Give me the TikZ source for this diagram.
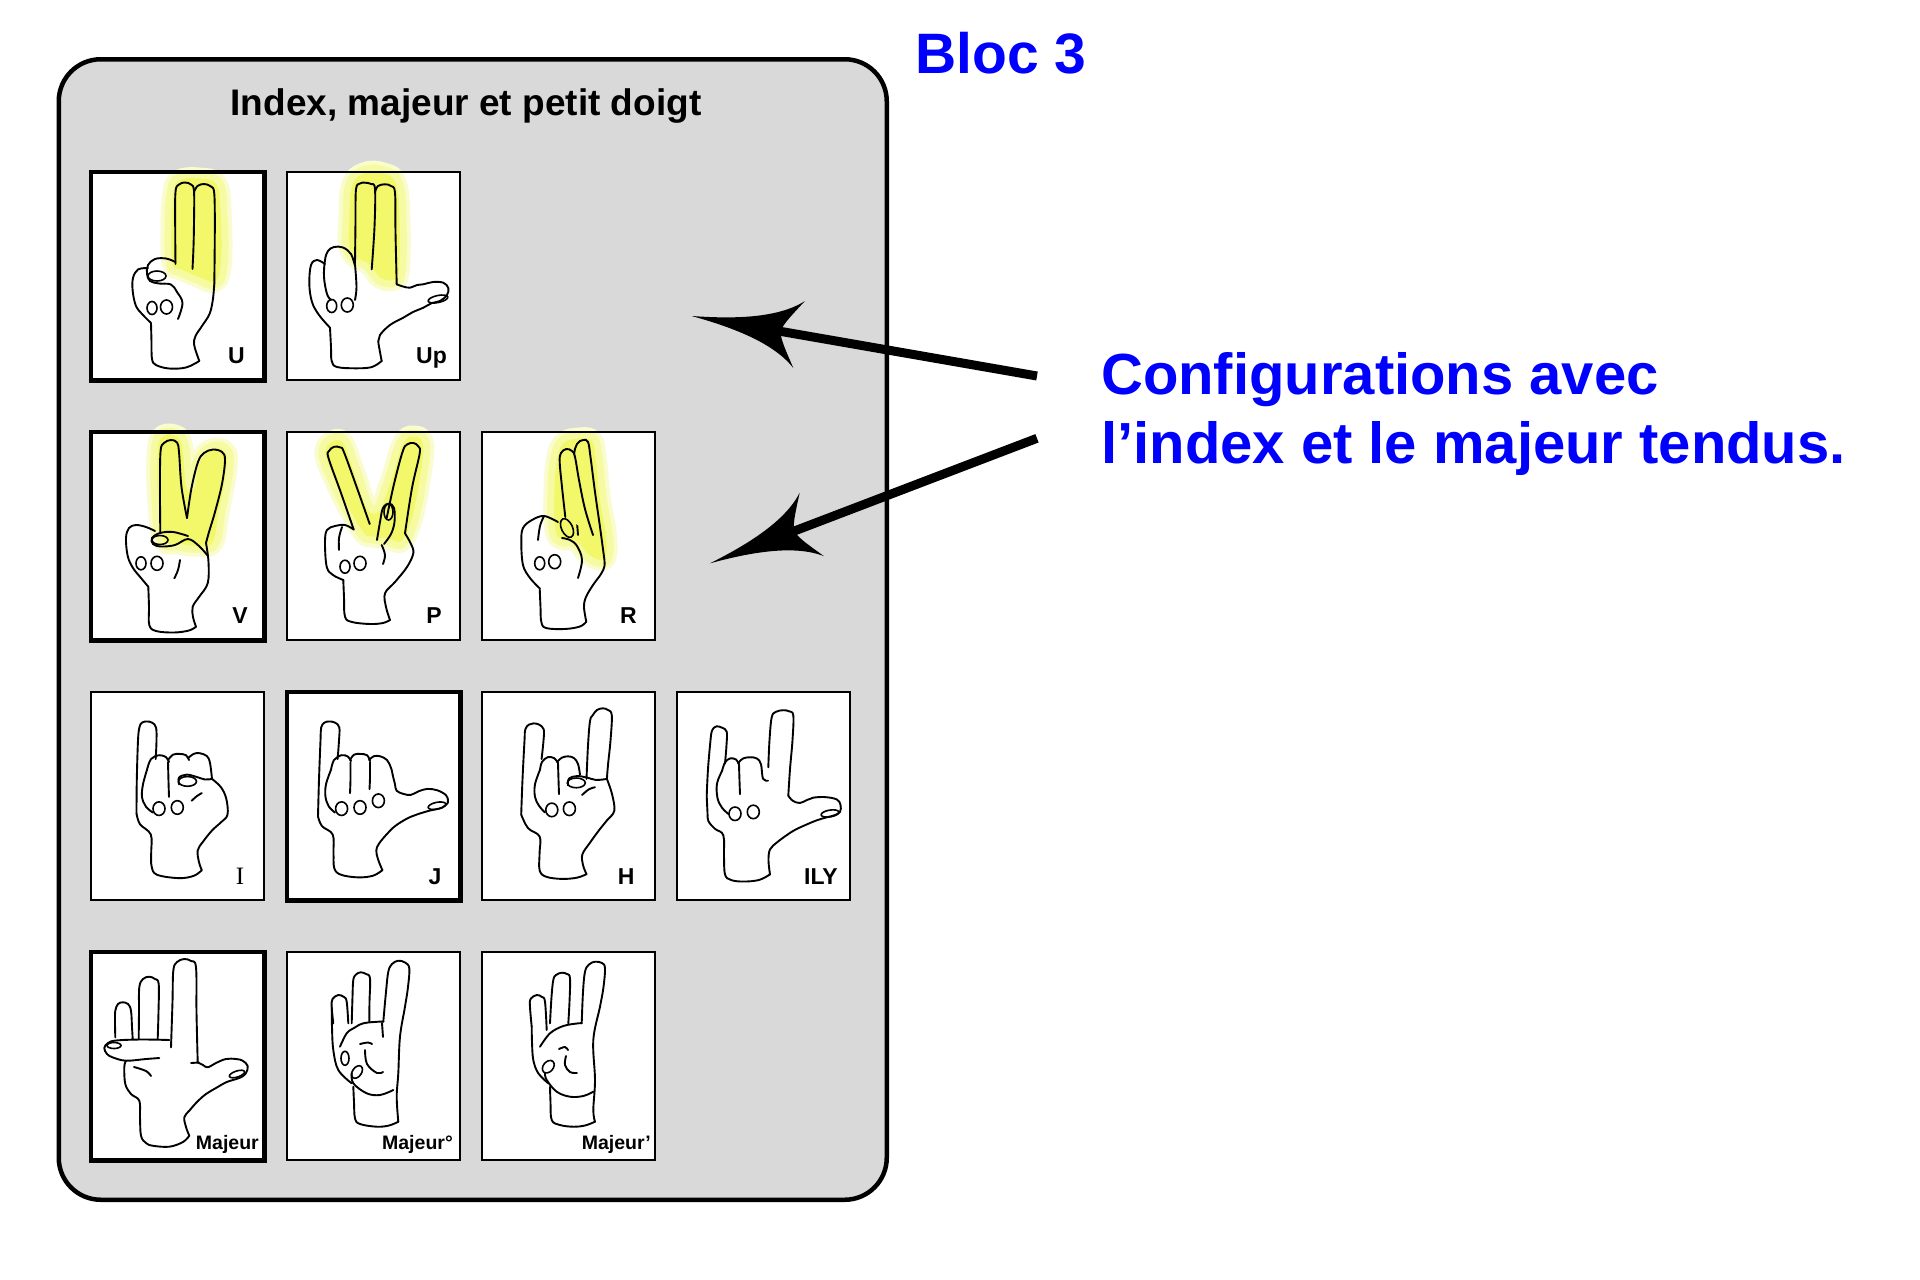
\documentclass[tikz,border=0pt]{standalone}
\usepackage{fontspec}
\setmainfont{Liberation Sans}
\newfontfamily\serifI{Liberation Serif}
\usetikzlibrary{calc}
\definecolor{boxgray}{RGB}{217,217,217}
\definecolor{hly}{RGB}{242,248,105}
\definecolor{hlsoft}{RGB}{246,250,160}
\definecolor{hlpale}{RGB}{250,252,205}
\definecolor{pureblue}{RGB}{0,0,255}
\tikzset{
  hand/.style={draw=black, line width=1.9pt, line cap=round, line join=round},
  nail/.style={draw=black, line width=1.6pt},
  hilite/.style={fill=hly, draw=hlsoft, line width=7pt, line join=round,
    preaction={draw=hlpale, line width=15pt, line join=round}},
  cellbox/.style={fill=white, draw=none, inner sep=0pt, minimum width=173pt, minimum height=208pt, anchor=north west},
  thinb/.style={draw=black, line width=2pt},
  thickb/.style={draw=black, line width=4.5pt},
  lbl/.style={font=\bfseries\fontsize{23}{23}\selectfont, anchor=base east, inner sep=0pt},
  lblI/.style={font=\serifI\fontsize{25}{25}\selectfont, anchor=base east, inner sep=0pt},
  lblsmall/.style={font=\bfseries\fontsize{19.5}{19.5}\selectfont, anchor=base east, inner sep=0pt},
  bluetxt/.style={text=pureblue, font=\bfseries\fontsize{58}{58}\selectfont, anchor=base west, inner sep=0pt},
  panelbox/.style={draw=black, fill=boxgray, line width=4.5pt, rounded corners=42pt, inner sep=0pt, minimum width=828pt, minimum height=1140.5pt, anchor=north west},
  shaft/.style={draw=black, line width=9pt},
}
\newcommand\hp[1]{\draw[hand] plot[smooth, tension=0.6] coordinates {#1};}
\begin{document}
\begin{tikzpicture}[x=1pt, y=-1pt]
\useasboundingbox (0,0) rectangle (1920,1280);
\fill[white] (0,0) rectangle (1920,1280);

\node[panelbox] (panel) at (56.5,57) {};
\node[font=\bfseries\fontsize{37}{37}\selectfont, anchor=base, inner sep=0pt] (title) at (466,115.5) {Index, majeur et petit doigt};
\node[bluetxt, font=\bfseries\fontsize{57}{57}\selectfont] (bloc) at (915,73.5) {Bloc 3};
\node[bluetxt] (conf1) at (1101,394) {Configurations avec};
\node[bluetxt] (conf2) at (1101,463) {l’index et le majeur tendus.};

% cells
\node[cellbox] (cU) at (91,172) {};
\node[cellbox] (cUp) at (287,172) {};
\node[cellbox] (cV) at (91,432) {};
\node[cellbox] (cP) at (287,432) {};
\node[cellbox] (cR) at (482,432) {};
\node[cellbox] (cI) at (91,692) {};
\node[cellbox] (cJ) at (287,692) {};
\node[cellbox] (cH) at (482,692) {};
\node[cellbox] (cILY) at (677,692) {};
\node[cellbox] (cMa) at (91,952) {};
\node[cellbox] (cMb) at (287,952) {};
\node[cellbox] (cMc) at (482,952) {};

% ---------- U ----------
\begin{scope}[shift={(cU.north west)}]
\fill[hilite] plot[smooth cycle, tension=.7] coordinates {(79,22) (86,6) (108,3) (128,10) (133,40) (133,95) (124,113) (106,108) (90,101) (79,94) (77,60)};
\hp{(84.5,92) (84.2,55) (84.5,20) (88,12.5) (94,10.5) (100,12.5) (103,19) (103,50) (102.5,75) (101.5,97)}
\hp{(103,20) (106.5,14) (113,12) (120,14.5) (123.3,22) (123.8,60) (123.3,112)}
\hp{(84.5,90) (75,86.5) (64,87) (57,93) (56,102) (59,109) (68,111.5) (80,112.5) (86,120) (91.5,131) (87,147)}
\draw[nail] (66,104) ellipse[x radius=9pt, y radius=5pt];
\hp{(57,96) (47,97.5) (42,106) (41.7,119) (45,134) (52,143) (60,151)}
\draw[nail] (61,136) ellipse[x radius=5pt, y radius=6.5pt];
\draw[nail] (75.5,135) ellipse[x radius=6pt, y radius=7pt];
\hp{(60,151) (60.5,170) (61,187) (65,193) (78,196.5) (95,195.5) (108.3,189)}
\hp{(108.3,189) (105.5,181) (103,172) (104.5,164) (111,154) (118.5,142) (121.8,128) (123.3,112)}
\end{scope}

% ---------- Up ----------
\begin{scope}[shift={(cUp.north west)}]
\fill[hilite] plot[smooth cycle, tension=.7] coordinates {(59,45) (62,12) (76,-2) (97,-2) (112,10) (116,50) (115,100) (108,111) (92,109) (80,95) (67,88) (59,75)};
\hp{(68,92.3) (68.5,50) (69,17.3) (73,11.5) (78,10.7) (84,12) (88,17) (87.5,55) (84.7,97.3)}
\hp{(88,20) (91,14) (98,12.3) (104,14) (108,20.7) (108.5,60) (109.7,112.3)}
\hp{(109.7,112.3) (116,114.5) (123,115.7) (130,113) (136.3,112.3) (146,110) (156.3,110.7) (161.3,116) (160,123) (153,129) (145,131) (136.3,135.7) (126,140) (116.3,145.7) (106,151) (99.7,155.7) (93,163) (91.3,169) (93,180) (94.7,189)}
\draw[nail, rotate around={12:(151,127)}] (151,127) ellipse[x radius=10pt, y radius=3.5pt];
\hp{(68,94) (64,82) (56,75.5) (47,75) (41,79) (38,88) (37,105) (40,122) (44,128)}
\hp{(68,92.3) (69.5,115) (68,128)}
\hp{(38,92) (30,88) (24,93) (22.3,112) (25,130) (32,143) (43,155.7)}
\draw[nail] (44.7,134) ellipse[x radius=5pt, y radius=6.5pt];
\draw[nail] (60.3,133) ellipse[x radius=6pt, y radius=7pt];
\hp{(43,155.7) (44,175) (44.7,189) (50,195) (69.7,196.3) (85,195) (94.7,189)}
\end{scope}

% ---------- V ----------
\begin{scope}[shift={(cV.north west)}]
\fill[hilite] plot[smooth cycle, tension=.7] coordinates {(63,25) (68,3) (84,0) (94,12) (99,55) (106,28) (120,14) (136,17) (139,35) (131,80) (124,113) (105,117) (88,115) (70,110) (64,70)};
\hp{(69.3,100) (69,60) (69.5,20) (73,11) (80,8) (86,10.5) (88,20) (90.5,55) (96,86)}
\hp{(96,86) (100.5,56) (107,30) (113,21) (122,17.5) (131,20) (134,28) (131,52) (124,80) (118,100) (115,111)}
\hp{(97,104) (82,100) (69,101) (61,106) (62,112) (70,114.5) (84,113) (97,107) (108,114) (117,124)}
\draw[nail] (69,108) ellipse[x radius=8pt, y radius=4.5pt];
\hp{(64,99) (55,95) (45,93) (38,96) (35,106) (36.7,124) (42,136) (50,146) (57.3,154.7)}
\draw[nail] (50,131.3) ellipse[x radius=5pt, y radius=6.5pt];
\draw[nail] (66,131.3) ellipse[x radius=6pt, y radius=7pt];
\hp{(89,128) (87,138) (83.3,146.3)}
\hp{(57.3,154.7) (58,175) (58.3,193) (65,199) (83,200.5) (98,198.5) (105,194.7)}
\hp{(105,194.7) (102,185) (101.7,174.7) (108,165) (116.7,151.3) (117.5,130) (115,111)}
\end{scope}

% ---------- P ----------
\begin{scope}[shift={(cP.north west)}]
\fill[hilite] plot[smooth cycle, tension=.7] coordinates {(35,22) (43,7) (58,8) (70,38) (86,78) (100,50) (113,10) (127,1) (139,10) (137,42) (128,88) (116,112) (100,110) (86,108) (75,104) (60,80) (46,52)};
\hp{(66.7,97.5) (54,61) (41.5,26) (42,19) (47,14.8) (53.5,15.5) (57.1,20.5) (70,56) (82.7,92)}
\hp{(99.7,86) (107,52) (115.5,20) (120,12.5) (126.5,11) (131.5,14.5) (132.6,22) (125,56) (118,101.3)}
\hp{(90,108) (93,90) (96,76) (102,71.5) (107,76) (107.5,90) (104,102) (97,112)}
\draw[nail] (101.5,80) ellipse[x radius=4.5pt, y radius=8pt];
\hp{(94.7,113) (98,123) (96,132)}
\hp{(66.7,97.5) (58,93) (48,94) (40,98) (38,110) (39.7,134.7) (46,143) (56.3,148)}
\hp{(55,95) (52,106) (52,118)}
\draw[nail] (58,134.7) ellipse[x radius=5pt, y radius=6.5pt];
\draw[nail] (73,131.3) ellipse[x radius=6pt, y radius=7pt];
\hp{(118,101.3) (124,112) (126.3,121.3) (120,135) (108,150) (98,161.3) (99,175) (103,188)}
\hp{(56.3,148) (57,165) (58,184.7) (65,190) (83,192) (96,191) (103,188)}
\end{scope}

% ---------- R ----------
\begin{scope}[shift={(cR.north west)}]
\fill[hilite] plot[smooth cycle, tension=.7] coordinates {(72,25) (80,8) (97,3) (112,6) (117,25) (121,65) (127,100) (127,125) (117,131) (103,124) (92,112) (78,110) (70,98) (69,60)};
\hp{(96,103) (93,60) (92,25) (95,12) (101,8) (106,10) (108.5,25) (113,60) (118,95) (122,124.7)}
\fill[hly] plot[smooth, tension=.6] coordinates {(83.3,85) (80,55) (77.7,30) (79,21) (84.3,17) (90,19) (93,25) (97,48) (103,77) (111,103)} -- cycle;
\hp{(83.3,85) (80,55) (77.7,30) (79,21) (84.3,17) (90,19) (93,25) (97,48) (103,77) (111,103)}
\draw[nail, rotate around={25:(85,96)}] (85,96) ellipse[x radius=5.5pt, y radius=10pt];
\hp{(76,90) (62,84) (50,88) (41,96) (39.3,110) (41,133) (48,146) (57.7,156.3)}
\hp{(62,84) (58,94) (56,108)}
\draw[nail] (57.7,131.3) ellipse[x radius=5pt, y radius=6.5pt];
\draw[nail] (72.7,129.7) ellipse[x radius=6pt, y radius=7pt];
\hp{(80,106) (88,108) (95,114) (100,128) (96,146)}
\hp{(122,124.7) (122.5,134) (119,142) (111,153) (104,165) (102,175) (104.3,189.7)}
\hp{(57.7,156.3) (58.5,175) (59.3,189.7) (64,196) (82.7,197) (98,194.5) (104.3,189.7)}
\end{scope}

% ---------- I ----------
\begin{scope}[shift={(cI.north west)}, yscale=0.972]
\hp{(45.5,125) (45.8,90) (47,50) (48.4,36.4) (51,31.5) (55.7,30.3) (61,31.5) (65,36.4) (65.5,50) (64.7,69)}
\hp{(56,80) (60,69) (68,65) (75,67) (78,72)}
\hp{(77,70) (82,64.5) (88.4,63.7) (95,65) (98,70)}
\hp{(97,68) (103,63.5) (109,63) (116,66) (119,73) (121,89.4)}
\hp{(77,72) (77.5,92) (78,108)}
\hp{(56,80) (52,95) (51,108) (55,118) (61.8,124)}
\draw[nail] (68,120) ellipse[x radius=6pt, y radius=7pt];
\draw[nail] (86.3,118.8) ellipse[x radius=6pt, y radius=7pt];
\hp{(88,95) (88,88) (96,85) (106,87.5) (114,90) (121,89.4)}
\draw[nail] (96.5,92) ellipse[x radius=9pt, y radius=5pt];
\hp{(100.6,111.9) (106,107) (110.8,104)}
\hp{(121,89.4) (130,98) (135.3,109.9) (136.5,126.2) (130,134) (121,142.5) (112,154) (106.7,162.9) (108,175) (110.8,183.3)}
\hp{(45.5,125) (49,136) (59.8,146.6) (60.2,165) (60.6,179.2) (66,188) (88.4,191.5) (103,189) (110.8,183.3)}
\end{scope}

% ---------- J ----------
\begin{scope}[shift={(cJ.north west)}, yscale=0.972]
\hp{(31,128) (32,90) (33.5,50) (34.2,36.4) (37.5,31.5) (42.4,30.3) (48,31.5) (52.3,36.4) (52,50) (50.6,69)}
\hp{(44,80) (47,70) (54.6,65) (61,66.5) (64,71)}
\hp{(63,70) (67,64.5) (73,63.7) (80,65) (83,71)}
\hp{(82,70) (87,66) (93.4,66.2) (100,70) (104,78) (105.7,85.4)}
\hp{(44,80) (39,95) (38.5,108) (42,118) (48,124)}
\hp{(63.5,72) (63.5,90) (63,104)}
\hp{(83,72) (83,88) (82.5,100)}
\draw[nail] (54.6,120) ellipse[x radius=6pt, y radius=7pt];
\draw[nail] (73,118.8) ellipse[x radius=6pt, y radius=7pt];
\draw[nail] (91.4,111.9) ellipse[x radius=6pt, y radius=7pt];
\hp{(105.7,85.4) (108,95) (109.7,101.7) (117,105) (124,105.8) (132,102) (140.3,99.7) (150,101) (158.7,105.8) (161,111) (160.8,114) (155,119) (142.4,122.1) (130,126) (119.9,130.3) (108,138) (99.5,146.6) (92,156) (89.3,162.9) (91,172) (95.4,183.3)}
\draw[nail, rotate around={12:(150,117)}] (150,117) ellipse[x radius=9pt, y radius=3.5pt];
\hp{(31,128) (35,138) (45.7,146.6) (46.5,165) (47.3,181.3) (54,188) (71,190.7) (86,189) (95.4,183.3)}
\end{scope}

% ---------- H ----------
\begin{scope}[shift={(cH.north west)}, yscale=0.972]
\hp{(39.2,126.2) (40.5,90) (42.5,50) (43.3,38.4) (47,33.5) (51.5,32.3) (57,33.5) (61.7,38.4) (61.5,50) (59.6,69)}
\hp{(104.5,89.4) (106,55) (108,30) (110.6,24.1) (115,18.5) (120.9,16.8) (126,18.5) (129.8,24.1) (128.5,50) (126,75) (124.9,89.4)}
\hp{(58,80) (60,72) (65.8,67) (72,68) (76,73)}
\hp{(75,72) (80,67.5) (86.2,66.2) (92,68) (96,74) (98,85)}
\hp{(76,73) (76.5,90) (77,105)}
\hp{(58,80) (53,95) (53,108) (57,117) (63,124)}
\draw[nail] (69.8,121.3) ellipse[x radius=6pt, y radius=7pt];
\draw[nail] (87.4,120.1) ellipse[x radius=6pt, y radius=7pt];
\hp{(86,96) (87,89) (95,86.5) (105,88) (114,90.5) (124.9,89.4)}
\draw[nail] (94.3,93.5) ellipse[x radius=9pt, y radius=5pt];
\hp{(100,106) (107,100) (113,98)}
\hp{(124.9,89.4) (130,105) (132.3,122.1) (125,132) (116.8,142.5) (108,155) (100.4,167) (101,178) (104.5,187.4)}
\hp{(39.2,126.2) (46,140) (57.6,148.6) (57.6,165) (57.6,183.3) (64,190) (80,192.3) (95,191) (104.5,187.4)}
\end{scope}

% ---------- ILY ----------
\begin{scope}[shift={(cILY.north west)}, yscale=0.964]
\hp{(29.7,107.7) (31,80) (33.5,50) (34.7,41.1) (37,37) (39.7,35.5) (45,37) (49.7,41.1) (49.5,55) (48,74.4)}
\hp{(91.3,78.1) (92.5,50) (94.7,26.3) (99,20.5) (106.3,18.9) (112,20) (116.3,24.4) (115.5,50) (113,80) (111.3,107.7)}
\hp{(45,82) (48,73) (53,68.9) (59,70) (62,75)}
\hp{(61,74) (66,69) (73,67.7) (80,69) (84,75) (86,90) (91,92)}
\hp{(62,75) (62.5,92) (63,106)}
\hp{(45,82) (40,95) (40.5,110) (45,120) (52,127)}
\draw[nail] (58,126.3) ellipse[x radius=6pt, y radius=7pt];
\draw[nail] (76.3,124.4) ellipse[x radius=6pt, y radius=7pt];
\hp{(111.3,107.7) (116,113) (123,115.1) (130,112) (136.3,109.6) (148,109) (159.7,111.4) (163.5,117) (163,124.4) (157,128) (149.7,130) (140,133) (129.7,137.4) (118,143) (109.7,148.5) (100,156) (93,163.3) (91.5,175) (93,189.2)}
\draw[nail, rotate around={10:(153,126)}] (153,126) ellipse[x radius=9pt, y radius=3.5pt];
\hp{(29.7,107.7) (30.5,125) (31.3,133.7) (38,142) (46.3,148.5) (47,170) (48,189.2) (54,195) (66.3,196.6) (82,195) (93,189.2)}
\end{scope}

% ---------- Majeur ----------
\begin{scope}[shift={(cMa.north west)}]
\hp{(24.3,85.3) (24,70) (24.3,58.7) (27,52) (31.7,50.3) (37,52) (40,58.7) (41,75) (41.7,87)}
\hp{(47.7,87) (48,60) (48.3,35.3) (52,27) (58.3,24.7) (64,27) (67.7,32) (67.5,60) (66.7,87)}
\hp{(80,95.3) (81.5,50) (82.3,18.7) (86,10) (93.3,7) (100,9) (105,15.3) (105.5,60) (106.7,110.3)}
\hp{(78.3,88) (50,87.5) (25,88.5) (17,91) (13.3,96) (16,102) (22,105.5) (35,108.7) (55,107) (68.3,106)}
\draw[nail] (23,93.5) ellipse[x radius=7pt, y radius=3pt];
\hp{(106.7,110.3) (112,113) (116.7,115.3) (125,111) (135,107) (145,107) (151.7,108.7) (156.7,114) (155,121) (150,125.3) (142,128) (135,130.3) (125,136) (115,142) (106,150) (98.3,158.7) (93.3,165.3) (95,175) (98.3,183.7)}
\draw[nail, rotate around={18:(146,122)}] (146,122) ellipse[x radius=8pt, y radius=3pt];
\hp{(35,108.7) (33.3,115) (34.3,132) (40,142) (48.3,148.7) (49,165) (50,183.7) (55,191) (61.7,193.7) (78.3,194.7) (92,190) (98.3,183.7)}
\hp{(43,115) (55,119) (60,124)}
\hp{(100,111) (108,110.5)}
\end{scope}

% ---------- Majeur° ----------
\begin{scope}[shift={(cMb.north west)}]
\hp{(46.3,71.3) (44.7,55) (45.5,47) (51.3,43) (57,45) (59.7,49.7) (61.3,71.3)}
\hp{(64.7,71.3) (65.5,45) (66.3,28) (69,22.5) (73.7,20.3) (79,22) (83,26.3) (82.5,50) (82.3,69.7)}
\hp{(96.3,69.7) (99,40) (101.3,19.7) (105,12) (111.3,8.7) (118,10.5) (122.3,16.3) (121,35) (118,54.7) (113,84.7) (111.3,121.3) (109.7,144.7) (111.3,169.7)}
\hp{(53,94.7) (59.7,81.3) (67,76) (76.3,71.3) (91.3,69.7) (96.3,69.7)}
\hp{(95,71) (96,85)}
\draw[nail] (58,106.3) ellipse[x radius=4pt, y radius=7pt];
\draw[nail, rotate around={-35:(70,120)}] (70,120) ellipse[x radius=4.5pt, y radius=7pt];
\hp{(73,92) (81,90.5) (85,92)}
\hp{(78,98) (80,112) (90,121) (96,120)}
\hp{(64.7,121.3) (66.3,131.3) (79.7,141.3) (93,143) (106.3,138)}
\hp{(44.7,55.3) (45,75) (46.3,98) (51.3,118) (64.7,131.3)}
\hp{(66.3,134.7) (67,150) (68,166.3) (73,172) (89.7,174.7) (102,173.5) (111.3,169.7)}
\end{scope}

% ---------- Majeur' ----------
\begin{scope}[shift={(cMc.north west)}]
\hp{(49.7,74.7) (48,55) (48.5,47) (54.7,43) (60,45) (63,49.7) (64.7,78)}
\hp{(68,71.3) (69.5,45) (71.3,28) (74,23) (79.7,20.7) (85,22) (88,26.3) (87.5,50) (86.3,71.3)}
\hp{(99.7,71.3) (101,40) (103,19.7) (107,12.5) (113,9.7) (120,11) (123,16.3) (121.5,35) (118,54.7) (111.3,88) (113,128) (111.3,158) (113,169.7)}
\hp{(58,94.7) (68,81.3) (81.3,74) (96.3,71.3) (99.7,71.3)}
\draw[nail, rotate around={-40:(66.3,114.7)}] (66.3,114.7) ellipse[x radius=5pt, y radius=7pt];
\hp{(77,97) (83,95) (86,98)}
\hp{(84,104) (83,113) (88,120) (95,121)}
\hp{(63,121.3) (64.7,128) (74.7,139.7) (88,144.7) (101.3,144) (111.3,139.7)}
\hp{(49.7,74.7) (50,90) (51.3,108) (56.3,121.3) (66.3,131.3)}
\hp{(68,134.7) (68.5,150) (69.7,168) (78,173) (91.3,174.7) (103,173.5) (113,169.7)}
\end{scope}

% borders
\draw[thickb] (cU.north west) rectangle (cU.south east);
\draw[thinb] (cUp.north west) rectangle (cUp.south east);
\draw[thickb] (cV.north west) rectangle (cV.south east);
\draw[thinb] (cP.north west) rectangle (cP.south east);
\draw[thinb] (cR.north west) rectangle (cR.south east);
\draw[thinb] (cI.north west) rectangle (cI.south east);
\draw[thickb] (cJ.north west) rectangle (cJ.south east);
\draw[thinb] (cH.north west) rectangle (cH.south east);
\draw[thinb] (cILY.north west) rectangle (cILY.south east);
\draw[thickb] (cMa.north west) rectangle (cMa.south east);
\draw[thinb] (cMb.north west) rectangle (cMb.south east);
\draw[thinb] (cMc.north west) rectangle (cMc.south east);

% labels
\node[lbl] (lU) at (245,363) {U};
\node[lbl] (lUp) at (447,363) {Up};
\node[lbl] (lV) at (248,623) {V};
\node[lbl] (lP) at (442,623) {P};
\node[lbl] (lR) at (637,623) {R};
\node[lblI] (lI) at (244.5,884) {I};
\node[lbl] (lJ) at (441.6,884) {J};
\node[lbl] (lH) at (634.7,884) {H};
\node[lbl] (lILY) at (838,884) {ILY};
\node[lblsmall] (lMa) at (259,1149) {Majeur};
\node[lblsmall] (lMb) at (453,1149) {Majeur°};
\node[lblsmall] (lMc) at (651,1149) {Majeur’};

% arrows
\coordinate (tail1) at (1037,376);
\coordinate (tip1) at (691.7,316);
\coordinate (notch1) at (770.5,329.6);
\coordinate (tail2) at (1037,438.3);
\coordinate (tip2) at (710,563.3);
\coordinate (notch2) at (784.7,534.7);
\draw[shaft] (tail1) -- (notch1);
\draw[shaft] (tail2) -- (notch2);
\begin{scope}[shift={(tip1)}, rotate=-9.8]
\fill[black] (0,0) .. controls (40,-4) and (85,-12) .. (109,-34) .. controls (100,-20) and (92,-9) .. (90,0) .. controls (92,9) and (100,20) .. (109,34) .. controls (85,12) and (40,4) .. (0,0) -- cycle;
\end{scope}
\begin{scope}[shift={(tip2)}, rotate=20.9]
\fill[black] (0,0) .. controls (40,-4) and (85,-12) .. (109,-34) .. controls (100,-20) and (92,-9) .. (90,0) .. controls (92,9) and (100,20) .. (109,34) .. controls (85,12) and (40,4) .. (0,0) -- cycle;
\end{scope}
\end{tikzpicture}
\end{document}
